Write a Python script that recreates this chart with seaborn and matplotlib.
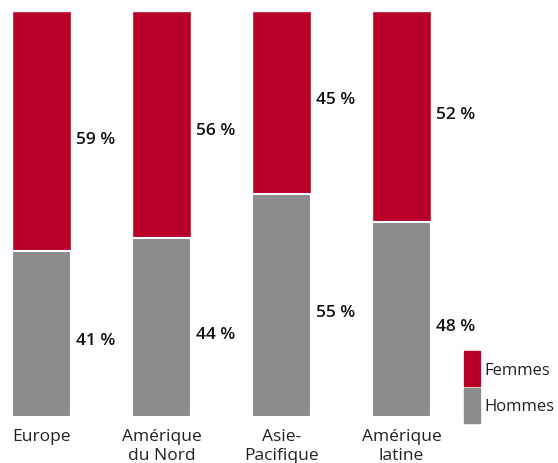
import matplotlib
matplotlib.use("Agg")
import matplotlib.pyplot as plt
import matplotlib.patches as mpatches
import seaborn as sns
import pandas as pd

# Data
regions = ["Europe", "Amérique\ndu Nord", "Asie-\nPacifique", "Amérique\nlatine"]
femmes = [59, 56, 45, 52]
hommes = [41, 44, 55, 48]

red = "#B8002A"
grey = "#8C8C8C"

sns.set_theme(style="white")
plt.rcParams["font.family"] = ["Open Sans", "DejaVu Sans"]

df = pd.DataFrame({"region": regions, "femmes": femmes, "hommes": hommes})
df["total"] = df["femmes"] + df["hommes"]

fig = plt.figure(figsize=(5.58, 4.64), dpi=100)
ax = fig.add_axes([0, 46 / 464, 1, 406 / 464])

sns.barplot(data=df, x="region", y="total", color=red, width=0.49,
            saturation=1, ax=ax)
sns.barplot(data=df, x="region", y="hommes", color=grey, width=0.49,
            saturation=1, edgecolor="white", linewidth=1.5, ax=ax)

ax.set_xlim(-41.5 / 120, (558 - 41.5) / 120)
ax.set_ylim(0, 100)
ax.set_xlabel("")
ax.set_ylabel("")
ax.set_yticks([])
sns.despine(ax=ax, left=True, bottom=True)
ax.tick_params(axis="x", length=0, pad=8, labelsize=12.5, colors="#222222")
for lbl in ax.get_xticklabels():
    lbl.set_linespacing(1.25)

# value labels (small vertical nudges as in the original layout)
f_nudge = [-2.0, -1.3, 0.8, 0.6]
for i, (f, h) in enumerate(zip(femmes, hommes)):
    ax.text(i + 0.29, h / 2 - 1.6, f"{h} %", ha="left", va="center",
            fontsize=12.5, fontweight="semibold", color="#111111")
    ax.text(i + 0.29, h + f / 2 + f_nudge[i], f"{f} %", ha="left", va="center",
            fontsize=12.5, fontweight="semibold", color="#111111")

handles = [mpatches.Patch(color=red, label="Femmes"),
           mpatches.Patch(color=grey, label="Hommes")]
leg = ax.legend(handles=handles, loc="lower right", bbox_to_anchor=(1.009, -0.035),
                frameon=False, fontsize=12, handlelength=0.95, handleheight=2.85,
                labelspacing=0.1, handletextpad=0.3, borderaxespad=0.1)
for t in leg.get_texts():
    t.set_color("#222222")

fig.savefig("out.png", dpi=100)
